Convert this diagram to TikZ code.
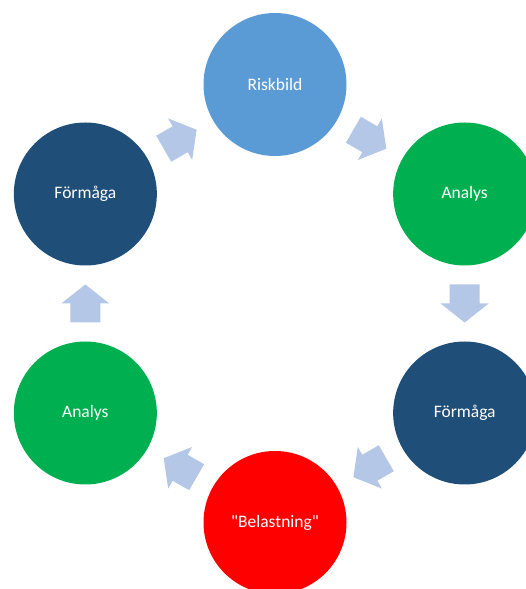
\documentclass[tikz,border=0pt]{standalone}
\usepackage{fontspec}
\newfontfamily\calfont{Carlito}
\usetikzlibrary{calc}
\definecolor{cLight}{HTML}{5B9BD5}
\definecolor{cGreen}{HTML}{00B050}
\definecolor{cDark}{HTML}{1F4E79}
\definecolor{cRed}{HTML}{FF0000}
\definecolor{cArrow}{HTML}{B4C7E7}
\tikzset{
  circ/.style={circle, minimum size=143pt, inner sep=0pt, text=white,
    font=\calfont\fontsize{17.5}{20}\selectfont},
  blockarr/.pic={\fill[cArrow] (-19,-15) -- (0,-15) -- (0,-24) -- (19,0)
    -- (0,24) -- (0,15) -- (-19,15) -- cycle;},
  onpath/.style={sloped, allow upside down, pos=0.5}
}
\begin{document}
\begin{tikzpicture}[x=1pt,y=1pt]
\useasboundingbox (0,0) rectangle (526,589);
\coordinate (c) at (275,285.5);
\node[circ, fill=cLight] (risk) at ($(c)+(90:219)$) {Riskbild};
\node[circ, fill=cGreen] (anaR) at ($(c)+(30:219)$) {Analys};
\node[circ, fill=cDark] (formR) at ($(c)+(-30:219)$) {Förmåga};
\node[circ, fill=cRed] (bel) at ($(c)+(-90:219)$) {"Belastning"};
\node[circ, fill=cGreen] (anaL) at ($(c)+(-150:219)$) {Analys};
\node[circ, fill=cDark] (formL) at ($(c)+(150:219)$) {Förmåga};
\path (formL.center) -- pic[onpath] {blockarr} (risk.center);
\path (risk.center) -- pic[onpath] {blockarr} (anaR.center);
\path (anaR.center) -- pic[onpath] {blockarr} (formR.center);
\path (formR.center) -- pic[onpath] {blockarr} (bel.center);
\path (bel.center) -- pic[onpath] {blockarr} (anaL.center);
\path (anaL.center) -- pic[onpath] {blockarr} (formL.center);
\end{tikzpicture}
\end{document}
